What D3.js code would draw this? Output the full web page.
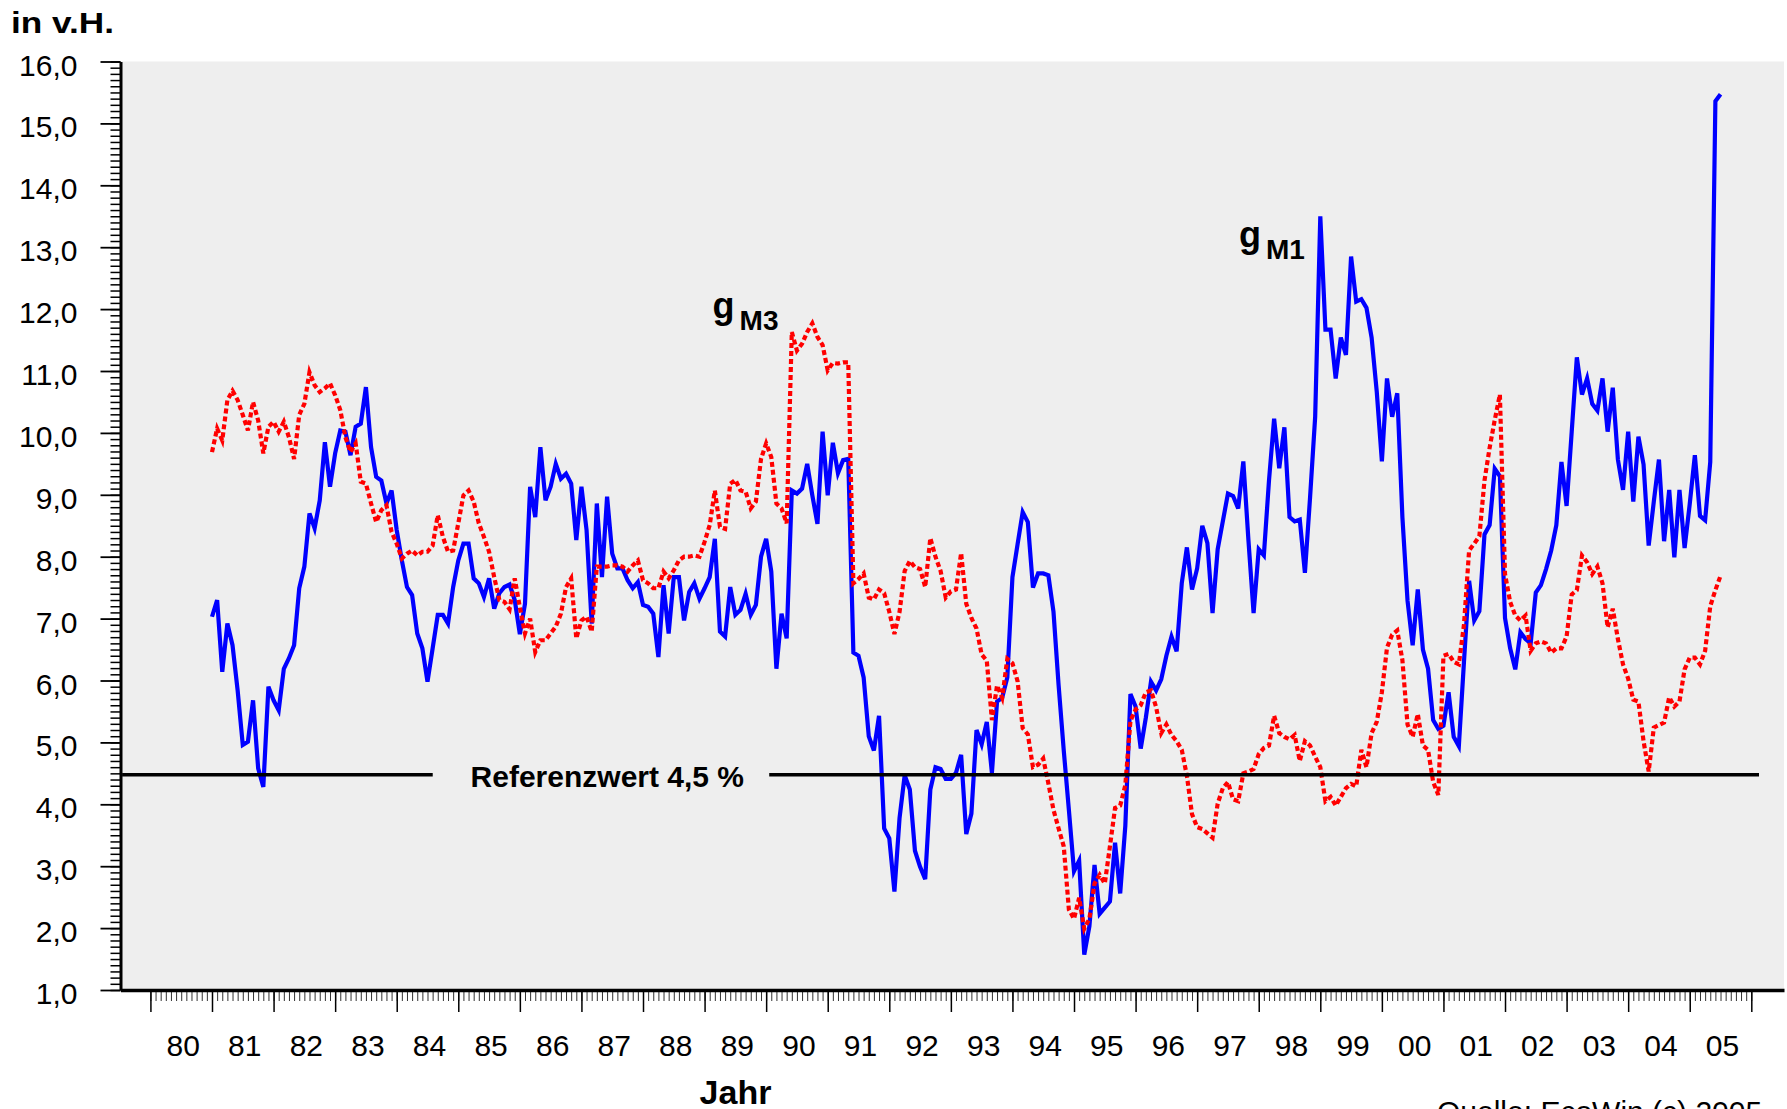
<!DOCTYPE html>
<html><head><meta charset="utf-8">
<script src="https://cdn.jsdelivr.net/npm/d3@7"></script>
<style>
body{margin:0;background:#fff;}
svg{display:block;font-family:"Liberation Sans",Arial,Helvetica,sans-serif;}
</style></head><body>
<svg id="chart" width="1787" height="1109"></svg>
<script>
// Monthly observations, January 1981 to July 2005 (growth vs. previous year, in %)
const startYear = 1981;
const m1Growth = [
  7.03, 7.30, 6.14, 6.92, 6.57, 5.84, 4.96, 5.01, 5.68, 4.58, 4.28, 5.90,
  5.68, 5.52, 6.19, 6.36, 6.57, 7.49, 7.84, 8.70, 8.46, 8.91, 9.85, 9.13,
  9.67, 10.04, 10.02, 9.64, 10.10, 10.15, 10.74, 9.77, 9.29, 9.23, 8.86, 9.07,
  8.43, 7.94, 7.51, 7.38, 6.76, 6.52, 5.98, 6.52, 7.06, 7.06, 6.92, 7.51,
  7.94, 8.21, 8.21, 7.65, 7.57, 7.35, 7.65, 7.16, 7.41, 7.51, 7.55, 7.30,
  6.75, 7.24, 9.13, 8.64, 9.77, 8.91, 9.13, 9.50, 9.26, 9.34, 9.18, 8.27,
  9.13, 8.43, 6.92, 8.86, 7.67, 8.97, 8.05, 7.81, 7.81, 7.62, 7.49, 7.59,
  7.22, 7.19, 7.08, 6.38, 7.54, 6.76, 7.67, 7.67, 6.97, 7.43, 7.57, 7.32,
  7.49, 7.67, 8.29, 6.79, 6.71, 7.51, 7.06, 7.14, 7.40, 7.06, 7.22, 8.00,
  8.29, 7.76, 6.19, 7.08, 6.68, 9.07, 9.02, 9.10, 9.50, 8.99, 8.53, 10.02,
  8.99, 9.84, 9.35, 9.56, 9.58, 6.45, 6.40, 6.05, 5.10, 4.87, 5.43, 3.61,
  3.45, 2.59, 3.78, 4.47, 4.24, 3.25, 2.99, 2.79, 4.24, 4.60, 4.57, 4.41,
  4.41, 4.51, 4.80, 3.52, 3.85, 5.20, 4.97, 5.33, 4.51, 5.66, 5.72, 6.05,
  7.67, 8.20, 8.72, 8.56, 7.50, 7.73, 7.73, 7.70, 7.11, 5.92, 4.87, 3.91,
  2.92, 3.09, 1.57, 2.03, 3.02, 2.23, 2.33, 2.43, 3.38, 2.56, 3.65, 5.78,
  5.58, 4.90, 5.40, 5.98, 5.84, 6.02, 6.40, 6.71, 6.47, 7.57, 8.15, 7.47,
  7.81, 8.50, 8.22, 7.09, 8.12, 8.57, 9.02, 8.98, 8.78, 9.54, 8.26, 7.09,
  8.12, 8.02, 9.23, 10.23, 9.43, 10.09, 8.64, 8.57, 8.60, 7.74, 8.95, 10.26,
  13.50, 11.67, 11.67, 10.88, 11.54, 11.26, 12.85, 12.12, 12.16, 12.02, 11.54, 10.67,
  9.54, 10.88, 10.26, 10.64, 8.64, 7.29, 6.57, 7.47, 6.50, 6.19, 5.36, 5.22,
  5.27, 5.81, 5.09, 4.94, 6.30, 7.61, 6.97, 7.12, 8.36, 8.51, 9.42, 9.30,
  7.01, 6.52, 6.18, 6.78, 6.67, 6.60, 7.42, 7.54, 7.80, 8.10, 8.51, 9.53,
  8.82, 10.02, 11.22, 10.62, 10.88, 10.47, 10.36, 10.88, 10.02, 10.73, 9.57, 9.08,
  10.02, 8.89, 9.94, 9.49, 8.18, 8.89, 9.57, 8.25, 9.08, 7.99, 9.08, 8.14,
  8.85, 9.64, 8.66, 8.59, 9.53, 15.36, 15.47
];
const m3Growth = [
  9.69, 10.07, 9.88, 10.53, 10.68, 10.53, 10.29, 10.04, 10.50, 10.20, 9.67, 10.10,
  10.18, 10.02, 10.18, 9.93, 9.58, 10.29, 10.47, 10.98, 10.77, 10.66, 10.72, 10.80,
  10.61, 10.37, 9.93, 9.69, 9.83, 9.21, 9.18, 8.86, 8.56, 8.75, 8.83, 8.40,
  8.21, 7.97, 8.05, 8.10, 8.02, 8.08, 8.08, 8.18, 8.67, 8.32, 8.08, 8.10,
  8.54, 8.99, 9.07, 8.89, 8.54, 8.32, 8.08, 7.67, 7.30, 7.27, 7.15, 7.65,
  7.18, 6.76, 7.00, 6.46, 6.65, 6.65, 6.76, 6.87, 7.08, 7.51, 7.65, 6.68,
  6.97, 7.03, 6.79, 7.84, 7.84, 7.84, 7.86, 7.86, 7.84, 7.76, 7.86, 7.94,
  7.62, 7.57, 7.49, 7.49, 7.76, 7.65, 7.78, 7.94, 8.00, 8.00, 8.02, 8.00,
  8.24, 8.51, 9.07, 8.48, 8.45, 9.18, 9.24, 9.07, 9.05, 8.78, 8.89, 9.58,
  9.83, 9.61, 8.86, 8.78, 8.54, 11.63, 11.33, 11.44, 11.63, 11.77, 11.55, 11.42,
  11.01, 11.13, 11.12, 11.14, 11.14, 7.57, 7.64, 7.73, 7.34, 7.31, 7.47, 7.41,
  7.11, 6.75, 7.11, 7.77, 7.93, 7.83, 7.80, 7.51, 8.30, 8.00, 7.77, 7.34,
  7.44, 7.47, 8.06, 7.24, 7.01, 6.84, 6.42, 6.32, 5.36, 5.92, 5.72, 6.35,
  6.28, 5.99, 5.23, 5.13, 4.60, 4.64, 4.74, 4.34, 3.91, 3.61, 3.32, 2.30,
  2.15, 2.49, 1.99, 2.15, 2.72, 2.86, 2.72, 3.32, 3.94, 3.98, 4.31, 5.35,
  5.53, 5.60, 5.81, 5.84, 5.57, 5.15, 5.29, 5.12, 5.02, 4.88, 4.46, 3.84,
  3.63, 3.60, 3.53, 3.46, 4.01, 4.26, 4.36, 4.08, 4.05, 4.50, 4.53, 4.57,
  4.81, 4.91, 4.95, 5.43, 5.15, 5.09, 5.05, 5.12, 4.70, 5.02, 4.95, 4.77,
  4.60, 4.05, 4.12, 3.98, 4.12, 4.26, 4.33, 4.29, 4.88, 4.60, 5.15, 5.33,
  5.81, 6.53, 6.74, 6.81, 6.33, 5.29, 5.09, 5.46, 4.95, 4.88, 4.36, 4.15,
  6.40, 6.43, 6.30, 6.26, 6.90, 8.10, 8.21, 8.33, 9.23, 9.76, 10.21, 10.62,
  7.72, 7.27, 7.05, 6.97, 7.05, 6.48, 6.60, 6.63, 6.60, 6.45, 6.52, 6.52,
  6.71, 7.39, 7.46, 8.02, 7.91, 7.72, 7.84, 7.57, 6.86, 7.16, 6.67, 6.26,
  6.03, 5.69, 5.66, 5.02, 4.53, 5.24, 5.28, 5.32, 5.73, 5.58, 5.66, 6.18,
  6.37, 6.37, 6.26, 6.48, 7.20, 7.46, 7.69
];
const yTickValues = [1,2,3,4,5,6,7,8,9,10,11,12,13,14,15,16];
const yearTicks = [1980,1981,1982,1983,1984,1985,1986,1987,1988,1989,1990,1991,1992,1993,1994,1995,1996,1997,1998,1999,2000,2001,2002,2003,2004,2005,2006];
const yearLabels = ["80","81","82","83","84","85","86","87","88","89","90","91","92","93","94","95","96","97","98","99","00","01","02","03","04","05"];
const referenceValue = 4.5;
const referenceLabel = "Referenzwert 4,5 %";

const svg = d3.select("#chart");
const x = d3.scaleLinear().domain([1979.514, 2006.531]).range([120.5, 1784]);
const y = d3.scaleLinear().domain([1, 16]).range([990, 61.5]);
const [x0, x1] = x.range();

// plot background
svg.append("rect")
  .attr("x", x0).attr("y", y(16))
  .attr("width", x1 - x0).attr("height", y(1) - y(16))
  .attr("fill", "#eeeeee");

// y axis: minor ticks (0,1) and major ticks
const minorY = d3.range(10, 161).map(d => d / 10);
const gYm = svg.append("g").attr("transform", `translate(${x0},0)`)
  .call(d3.axisLeft(y).tickValues(minorY).tickSize(10).tickSizeOuter(0).tickFormat(""));
gYm.select(".domain").remove();
gYm.selectAll("line").attr("stroke", "#000").attr("stroke-width", 1.5);

const gY = svg.append("g").attr("transform", `translate(${x0},0)`)
  .call(d3.axisLeft(y).tickValues(yTickValues).tickSize(20).tickPadding(23).tickSizeOuter(0)
    .tickFormat(d => d3.format(".1f")(d).replace(".", ",")));
gY.select(".domain").attr("stroke", "#000").attr("stroke-width", 3);
gY.selectAll("line").attr("stroke", "#000").attr("stroke-width", 1.8);
gY.selectAll("text").attr("font-size", 30).attr("fill", "#000").attr("dy", "0.45em")
  .attr("font-family", '"Liberation Sans",Arial,sans-serif');

// x axis: monthly minor ticks, yearly major ticks
const minorX = d3.range(1980 * 12, 2006 * 12 + 1).map(d => d / 12);
const gXm = svg.append("g").attr("transform", `translate(0,${y(1)})`)
  .call(d3.axisBottom(x).tickValues(minorX).tickSize(11).tickSizeOuter(0).tickFormat(""));
gXm.select(".domain").remove();
gXm.selectAll("line").attr("stroke", "#333").attr("stroke-width", 1);

const gX = svg.append("g").attr("transform", `translate(0,${y(1)})`)
  .call(d3.axisBottom(x).tickValues(yearTicks).tickSize(22).tickSizeOuter(0).tickFormat(""));
gX.select(".domain").attr("stroke", "#000").attr("stroke-width", 3.5);
gX.selectAll("line").attr("stroke", "#000").attr("stroke-width", 1.5);

svg.append("g").selectAll("text").data(yearLabels).join("text")
  .attr("x", (d, i) => x(yearTicks[i] + 0.5) + 2)
  .attr("y", 1056)
  .attr("text-anchor", "middle")
  .attr("font-size", 30)
  .text(d => d);

// series
const months = m1Growth.map((d, i) => startYear + i / 12);
const line = d3.line().x(d => x(d[0])).y(d => y(d[1]));

svg.append("path")
  .datum(months.map((t, i) => [t, m1Growth[i]]))
  .attr("d", line)
  .attr("fill", "none").attr("stroke", "#0000ff").attr("stroke-width", 4.2)
  .attr("stroke-linejoin", "miter");

svg.append("path")
  .datum(months.map((t, i) => [t, m3Growth[i]]))
  .attr("d", line)
  .attr("fill", "none").attr("stroke", "#ff0000").attr("stroke-width", 4.2)
  .attr("stroke-dasharray", "5,3");

// reference value line with label gap
const refSegments = [[1979.54, 1984.585], [1990.05, 2006.125]];
svg.append("g").selectAll("line").data(refSegments).join("line")
  .attr("x1", d => x(d[0])).attr("x2", d => x(d[1]))
  .attr("y1", y(referenceValue) + 1.5).attr("y2", y(referenceValue) + 1.5)
  .attr("stroke", "#000").attr("stroke-width", 3.5);
svg.append("text")
  .attr("x", x(1985.2)).attr("y", y(referenceValue) + 14)
  .attr("font-size", 30).attr("font-weight", "bold")
  .text(referenceLabel);

// series labels
function seriesLabel(t, v, sub) {
  const tx = svg.append("text").attr("x", x(t)).attr("y", y(v))
    .attr("font-weight", "bold").attr("fill", "#000");
  tx.append("tspan").attr("font-size", 36).text("g");
  tx.append("tspan").attr("font-size", 28).attr("dx", 5).attr("dy", 12).text(sub);
}
seriesLabel(1989.13, 11.85, "M3");
seriesLabel(1997.68, 13.0, "M1");

// titles
svg.append("text").attr("x", 11).attr("y", 33)
  .attr("font-size", 29).attr("font-weight", "bold")
  .attr("textLength", 103).attr("lengthAdjust", "spacingAndGlyphs")
  .text("in v.H.");
svg.append("text").attr("x", 735.5).attr("y", 1104)
  .attr("text-anchor", "middle").attr("font-size", 34).attr("font-weight", "bold")
  .text("Jahr");
svg.append("text").attr("x", 1437).attr("y", 1122)
  .attr("font-size", 30)
  .text("Quelle: EcoWin (c) 2005");
</script>
</body></html>
